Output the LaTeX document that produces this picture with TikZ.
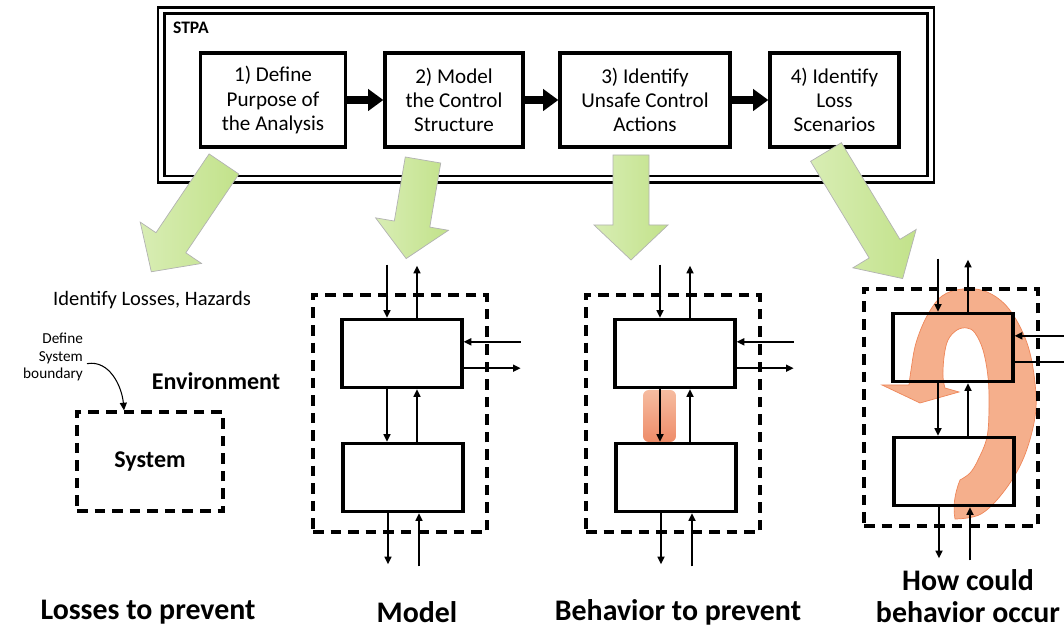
\documentclass[tikz,border=0pt]{standalone}
\usepackage{fontspec}
\setmainfont{Carlito}
\usetikzlibrary{arrows.meta,positioning,calc}

\definecolor{leafgreen}{RGB}{194,226,138}
\definecolor{leaflight}{RGB}{216,237,180}
\definecolor{salmon}{RGB}{245,175,140}
\definecolor{salmonline}{RGB}{238,135,90}
\definecolor{ucatop}{RGB}{246,188,160}
\definecolor{ucabot}{RGB}{238,140,105}

% one green block arrow: tail point, angle, length
\newcommand\greenarrow[3]{%
  \begin{scope}[shift={#1},rotate=#2]
    \path[greenblock] (0,-18) -- (#3-35,-18) -- (#3-35,-37) -- (#3,0)
      -- (#3-35,37) -- (#3-35,18) -- (0,18) -- cycle;
  \end{scope}}

\tikzset{
  stepbox/.style={draw,line width=2.8pt,minimum width=#1,minimum height=2.82cm,
    align=center,font=\fontsize{18}{20.5}\selectfont},
  dashbox/.style={draw,line width=2.8pt,dash pattern=on 9pt off 6pt},
  ctrlbox/.style={draw,line width=2.8pt,minimum width=3.6cm,minimum height=2.05cm},
  sarrow/.style={line width=1.3pt,-{Triangle[length=6.5pt,width=6pt]}},
  fatarrow/.style={line width=6pt,-{Triangle[length=13pt,width=18pt]}},
  greenblock/.style={left color=leaflight,right color=leafgreen,draw=black!30,line width=0.6pt},
  loopfill/.style={fill=salmon,draw=salmonline,line width=0.6pt},
  botlabel/.style={font=\bfseries\fontsize{25.5}{27}\selectfont}
}

\begin{document}
\begin{tikzpicture}[x=0.03cm,y=-0.03cm]
\useasboundingbox (0,0) rectangle (1064,629);

% STPA frame and its four steps
\node[draw,line width=2.4pt,double,double distance=3pt,
  minimum width=23.09cm,minimum height=5.06cm] (stpaframe) at (546,94.75) {};
\node[anchor=west,font=\bfseries\fontsize{15}{17}\selectfont] (stpa) at (169,28) {STPA};
\node[stepbox=4.37cm] (s1) at (273,100) {1) Define\\Purpose of\\the Analysis};
\node[stepbox=4.14cm] (s2) at (454,100) {2) Model\\the Control\\Structure};
\node[stepbox=5.10cm] (s3) at (645,100) {3) Identify\\Unsafe Control\\Actions};
\node[stepbox=3.87cm] (s4) at (834.5,100) {4) Identify\\Loss\\Scenarios};
\foreach \a/\b in {s1/s2,s2/s3,s3/s4}
  \draw[fatarrow] (\a) -- (\b);

% losses and hazards
\node[font=\fontsize{17.5}{19}\selectfont] (hazards) at (152,300) {Identify Losses, Hazards};
\node[dashbox,minimum width=4.38cm,minimum height=2.97cm,
  font=\bfseries\fontsize{20.5}{24}\selectfont] (sysbox) at (150,461.5) {System};
\node[font=\bfseries\fontsize{20.5}{24}\selectfont] (envlabel) at (216,381) {Environment};
\node[anchor=east,align=right,font=\fontsize{13}{15}\selectfont] (defn) at (87,357) {Define\\System\\boundary};
\draw[sarrow,line width=0.9pt] ([yshift=-2mm]defn.east) to[out=10,in=95] ([xshift=-7.8mm]sysbox.north);

% highlights behind the control structures
\node[rounded corners=5pt,top color=ucatop,bottom color=ucabot,
  minimum width=0.99cm,minimum height=1.56cm] (uca) at (659.5,416) {};
\path[loopfill] plot[smooth,tension=0.6] coordinates {(955,519) (981,514) (1005,490)
    (1024,457) (1035,417) (1035,383) (1027,343) (1009,309) (987,292) (963,289)
    (942,296) (927,316) (916,343) (911,370) (909,385)}
  -- (882,385) -- (920,403) -- (959,392) -- (945,388)
  -- plot[smooth,tension=0.6] coordinates {(945,388) (943,377) (944,357) (948,340)
    (957,330) (967,328) (975,333) (983,350) (988,377) (989,407) (987,437)
    (978,460) (970,473) (960,480)}
  .. controls (954,495) and (953,508) .. (955,519) -- cycle;

% control structures
\foreach \i/\dx/\dy in {2/0/0,3/273/0,4/551/-6}{
  \begin{scope}[shift={(\dx,\dy)}]
    \node[dashbox,minimum width=5.22cm,minimum height=7.11cm] (env\i) at (400,413.5) {};
    \node[ctrlbox] (up\i) at (402,353.5) {};
    \node[ctrlbox] (lo\i) at (403,477.5) {};
    \draw[sarrow] ([xshift=-4.5mm]up\i.north) ++(0,-53) -- ([xshift=-4.5mm]up\i.north);
    \draw[sarrow] ([xshift=4.5mm]up\i.north) -- ++(0,-52);
    \draw[sarrow] ([xshift=-4.5mm]up\i.south) -- ([xshift=-4.5mm]up\i.south |- lo\i.north);
    \draw[sarrow] ([xshift=4.5mm]up\i.south |- lo\i.north) -- ([xshift=4.5mm]up\i.south);
    \draw[sarrow] ([yshift=3.5mm]up\i.east) ++(57,0) -- ([yshift=3.5mm]up\i.east);
    \draw[sarrow] ([yshift=-4.4mm]up\i.east) -- ++(57,0);
    \draw[sarrow] ([xshift=-4.5mm]lo\i.south) -- ++(0,51);
    \draw[sarrow] ([xshift=4.8mm]lo\i.south) ++(0,53) -- ([xshift=4.8mm]lo\i.south);
  \end{scope}}

% green arrows from the steps
\greenarrow{(224,164)}{-124}{130}
\greenarrow{(423,160)}{-99.7}{100}
\greenarrow{(631,155)}{-90}{105}
\greenarrow{(826,152)}{-58.8}{148}

% what each step gives
\node[botlabel] (lossesl) at (148,612) {Losses to prevent};
\node[botlabel] (modell) at (417,612) {Model};
\node[botlabel] (behavl) at (678,612) {Behavior to prevent};
\node[botlabel,align=center] (howl) at (968,596) {How could\\behavior occur};
\end{tikzpicture}
\end{document}
